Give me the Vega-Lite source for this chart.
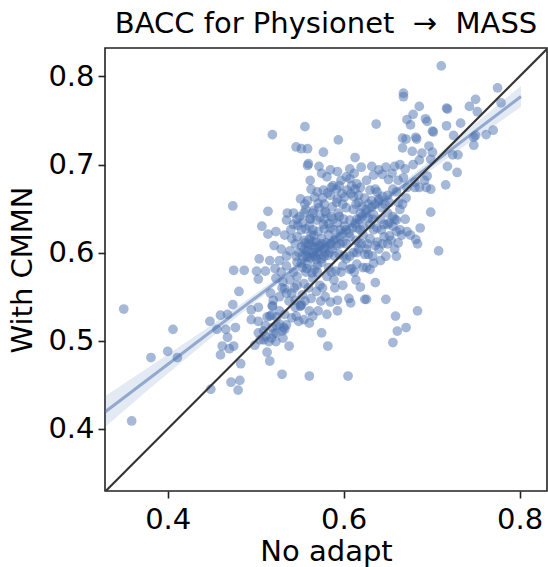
{
  "$schema": "https://vega.github.io/schema/vega-lite/v6.json",
  "autosize": "none",
  "padding": {"left": 105, "top": 48, "right": 1, "bottom": 76},
  "width": 442,
  "height": 443,
  "title": {"text": "BACC for Physionet \u00a0→\u00a0 MASS", "fontSize": 29, "font": "DejaVu Sans", "fontWeight": "normal", "color": "#000", "anchor": "middle", "offset": 9},
  "config": {
    "font": "DejaVu Sans",
    "view": {"stroke": "#222", "strokeWidth": 1.6},
    "axis": {"grid": false, "domain": false, "tickColor": "#222", "tickWidth": 1.6, "tickSize": 7, "labelFontSize": 29, "titleFontSize": 29, "labelColor": "#000", "titleColor": "#000", "titleFontWeight": "normal", "labelFont": "DejaVu Sans", "titleFont": "DejaVu Sans"}
  },
  "datasets": {
    "pts": [
      {"x":0.711,"y":0.812},{"x":0.775,"y":0.787},{"x":0.779,"y":0.770},{"x":0.750,"y":0.774},{"x":0.743,"y":0.766},
      {"x":0.668,"y":0.781},{"x":0.668,"y":0.777},{"x":0.717,"y":0.764},{"x":0.718,"y":0.763},{"x":0.686,"y":0.766},
      {"x":0.679,"y":0.757},{"x":0.672,"y":0.751},{"x":0.676,"y":0.745},{"x":0.693,"y":0.752},{"x":0.695,"y":0.749},
      {"x":0.637,"y":0.746},{"x":0.717,"y":0.744},{"x":0.701,"y":0.738},{"x":0.702,"y":0.737},{"x":0.733,"y":0.747},
      {"x":0.752,"y":0.760},{"x":0.725,"y":0.733},{"x":0.750,"y":0.733},{"x":0.748,"y":0.731},{"x":0.762,"y":0.734},
      {"x":0.770,"y":0.739},{"x":0.748,"y":0.722},{"x":0.667,"y":0.730},{"x":0.671,"y":0.729},{"x":0.682,"y":0.731},
      {"x":0.683,"y":0.729},{"x":0.667,"y":0.719},{"x":0.678,"y":0.715},{"x":0.686,"y":0.705},{"x":0.689,"y":0.713},
      {"x":0.697,"y":0.721},{"x":0.701,"y":0.714},{"x":0.699,"y":0.706},{"x":0.724,"y":0.711},{"x":0.730,"y":0.711},
      {"x":0.718,"y":0.698},{"x":0.729,"y":0.691},{"x":0.716,"y":0.677},{"x":0.699,"y":0.646},{"x":0.708,"y":0.602},
      {"x":0.660,"y":0.596},{"x":0.695,"y":0.687},{"x":0.694,"y":0.674},{"x":0.699,"y":0.672},{"x":0.686,"y":0.674},
      {"x":0.681,"y":0.674},{"x":0.692,"y":0.682},{"x":0.682,"y":0.615},{"x":0.687,"y":0.628},{"x":0.672,"y":0.624},
      {"x":0.662,"y":0.611},{"x":0.652,"y":0.619},{"x":0.650,"y":0.632},{"x":0.660,"y":0.637},{"x":0.656,"y":0.630},
      {"x":0.634,"y":0.588},{"x":0.626,"y":0.583},{"x":0.615,"y":0.587},{"x":0.609,"y":0.582},{"x":0.628,"y":0.598},
      {"x":0.617,"y":0.611},{"x":0.626,"y":0.604},{"x":0.615,"y":0.600},
      {"x":0.684,"y":0.534},{"x":0.659,"y":0.528},{"x":0.671,"y":0.515},{"x":0.661,"y":0.511},{"x":0.656,"y":0.498},
      {"x":0.605,"y":0.460},{"x":0.561,"y":0.460},{"x":0.530,"y":0.462},{"x":0.582,"y":0.494},{"x":0.575,"y":0.509},
      {"x":0.538,"y":0.494},{"x":0.516,"y":0.477},{"x":0.513,"y":0.487},
      {"x":0.350,"y":0.536},{"x":0.359,"y":0.409},{"x":0.406,"y":0.513},{"x":0.400,"y":0.488},{"x":0.381,"y":0.481},
      {"x":0.411,"y":0.481},{"x":0.449,"y":0.445},{"x":0.472,"y":0.453},{"x":0.482,"y":0.455},{"x":0.480,"y":0.444},
      {"x":0.483,"y":0.474},{"x":0.460,"y":0.484},{"x":0.462,"y":0.494},{"x":0.470,"y":0.491},{"x":0.475,"y":0.494},
      {"x":0.448,"y":0.522},{"x":0.460,"y":0.529},{"x":0.468,"y":0.530},{"x":0.456,"y":0.513},{"x":0.466,"y":0.513},
      {"x":0.477,"y":0.515},{"x":0.468,"y":0.504},{"x":0.474,"y":0.541},{"x":0.481,"y":0.556},{"x":0.475,"y":0.580},
      {"x":0.487,"y":0.580},{"x":0.501,"y":0.579},{"x":0.503,"y":0.570},{"x":0.511,"y":0.579},{"x":0.504,"y":0.593},
      {"x":0.516,"y":0.591},{"x":0.522,"y":0.582},{"x":0.507,"y":0.630},{"x":0.514,"y":0.621},{"x":0.514,"y":0.647},
      {"x":0.474,"y":0.653},{"x":0.519,"y":0.734},{"x":0.556,"y":0.743},{"x":0.546,"y":0.720},{"x":0.552,"y":0.718},
      {"x":0.559,"y":0.718},{"x":0.577,"y":0.714},{"x":0.594,"y":0.728},{"x":0.613,"y":0.708},{"x":0.560,"y":0.701},
      {"x":0.559,"y":0.699},{"x":0.572,"y":0.698},{"x":0.562,"y":0.682},{"x":0.536,"y":0.645},
      {"x":0.509,"y":0.511},{"x":0.509,"y":0.501},{"x":0.518,"y":0.503},{"x":0.520,"y":0.508},{"x":0.524,"y":0.517},
      {"x":0.530,"y":0.511},{"x":0.532,"y":0.515},{"x":0.535,"y":0.518},{"x":0.513,"y":0.527},{"x":0.518,"y":0.529},
      {"x":0.524,"y":0.527},{"x":0.519,"y":0.539},{"x":0.520,"y":0.546},{"x":0.533,"y":0.559},{"x":0.541,"y":0.554},
      {"x":0.547,"y":0.563},{"x":0.552,"y":0.541},{"x":0.551,"y":0.539},
      {"x":0.620,"y":0.697},{"x":0.632,"y":0.698},{"x":0.640,"y":0.694},{"x":0.648,"y":0.697},{"x":0.658,"y":0.698},
      {"x":0.664,"y":0.700},{"x":0.670,"y":0.695},{"x":0.679,"y":0.700},{"x":0.607,"y":0.695},{"x":0.585,"y":0.694},
      {"x":0.593,"y":0.692},{"x":0.603,"y":0.686},
      {"x":0.581,"y":0.686},{"x":0.597,"y":0.682},{"x":0.607,"y":0.684},{"x":0.615,"y":0.678},{"x":0.626,"y":0.682},
      {"x":0.634,"y":0.688},{"x":0.644,"y":0.689},{"x":0.651,"y":0.683},{"x":0.662,"y":0.682},{"x":0.668,"y":0.685},
      {"x":0.672,"y":0.674},{"x":0.681,"y":0.680},{"x":0.570,"y":0.669},{"x":0.586,"y":0.674},{"x":0.577,"y":0.671},
      {"x":0.609,"y":0.676},{"x":0.619,"y":0.674},{"x":0.630,"y":0.671},{"x":0.638,"y":0.669},{"x":0.650,"y":0.665},
      {"x":0.660,"y":0.669},
      {"x":0.551,"y":0.661},{"x":0.559,"y":0.659},{"x":0.567,"y":0.663},{"x":0.585,"y":0.665},{"x":0.593,"y":0.661},
      {"x":0.601,"y":0.663},{"x":0.608,"y":0.667},{"x":0.617,"y":0.665},{"x":0.624,"y":0.662},{"x":0.632,"y":0.659},
      {"x":0.640,"y":0.659},{"x":0.652,"y":0.657},{"x":0.662,"y":0.657},{"x":0.671,"y":0.662},
      {"x":0.543,"y":0.645},{"x":0.550,"y":0.641},{"x":0.557,"y":0.649},{"x":0.565,"y":0.645},{"x":0.572,"y":0.651},
      {"x":0.579,"y":0.647},{"x":0.586,"y":0.641},{"x":0.594,"y":0.645},{"x":0.603,"y":0.651},{"x":0.611,"y":0.649},
      {"x":0.619,"y":0.645},{"x":0.626,"y":0.649},{"x":0.634,"y":0.643},{"x":0.644,"y":0.651},{"x":0.650,"y":0.645},
      {"x":0.656,"y":0.641},{"x":0.664,"y":0.649},
      {"x":0.535,"y":0.637},{"x":0.543,"y":0.632},{"x":0.553,"y":0.634},{"x":0.561,"y":0.630},{"x":0.569,"y":0.637},
      {"x":0.577,"y":0.632},{"x":0.585,"y":0.628},{"x":0.593,"y":0.634},{"x":0.601,"y":0.630},{"x":0.607,"y":0.637},
      {"x":0.615,"y":0.628},{"x":0.622,"y":0.630},{"x":0.630,"y":0.632},{"x":0.638,"y":0.628},{"x":0.646,"y":0.632},
      {"x":0.652,"y":0.634},{"x":0.660,"y":0.624},
      {"x":0.523,"y":0.624},{"x":0.533,"y":0.620},{"x":0.541,"y":0.616},{"x":0.547,"y":0.618},{"x":0.555,"y":0.614},
      {"x":0.563,"y":0.620},{"x":0.569,"y":0.612},{"x":0.575,"y":0.616},{"x":0.583,"y":0.620},{"x":0.591,"y":0.616},
      {"x":0.599,"y":0.612},{"x":0.607,"y":0.618},{"x":0.614,"y":0.614},{"x":0.622,"y":0.620},{"x":0.630,"y":0.616},
      {"x":0.638,"y":0.612},{"x":0.646,"y":0.618},{"x":0.654,"y":0.614},{"x":0.666,"y":0.620},{"x":0.676,"y":0.620},
      {"x":0.521,"y":0.608},{"x":0.529,"y":0.604},{"x":0.539,"y":0.602},{"x":0.549,"y":0.600},{"x":0.555,"y":0.604},
      {"x":0.559,"y":0.595},{"x":0.565,"y":0.600},{"x":0.571,"y":0.606},{"x":0.579,"y":0.600},{"x":0.587,"y":0.604},
      {"x":0.595,"y":0.598},{"x":0.603,"y":0.593},{"x":0.611,"y":0.600},{"x":0.617,"y":0.604},{"x":0.624,"y":0.598},
      {"x":0.636,"y":0.608},{"x":0.640,"y":0.604},{"x":0.658,"y":0.604},{"x":0.684,"y":0.610},
      {"x":0.527,"y":0.591},{"x":0.535,"y":0.585},{"x":0.547,"y":0.589},{"x":0.553,"y":0.583},{"x":0.559,"y":0.587},
      {"x":0.567,"y":0.581},{"x":0.575,"y":0.589},{"x":0.583,"y":0.583},{"x":0.591,"y":0.579},{"x":0.599,"y":0.585},
      {"x":0.607,"y":0.581},{"x":0.622,"y":0.583},{"x":0.630,"y":0.581},{"x":0.642,"y":0.591},
      {"x":0.523,"y":0.571},{"x":0.531,"y":0.567},{"x":0.539,"y":0.569},{"x":0.547,"y":0.573},{"x":0.555,"y":0.565},
      {"x":0.565,"y":0.571},{"x":0.573,"y":0.563},{"x":0.581,"y":0.573},{"x":0.589,"y":0.569},{"x":0.599,"y":0.563},
      {"x":0.614,"y":0.569},{"x":0.619,"y":0.561},{"x":0.636,"y":0.566},
      {"x":0.517,"y":0.554},{"x":0.527,"y":0.550},{"x":0.535,"y":0.554},{"x":0.545,"y":0.546},{"x":0.553,"y":0.552},
      {"x":0.563,"y":0.548},{"x":0.569,"y":0.556},{"x":0.579,"y":0.550},{"x":0.585,"y":0.544},{"x":0.593,"y":0.546},
      {"x":0.606,"y":0.548},{"x":0.624,"y":0.547},{"x":0.626,"y":0.547},{"x":0.648,"y":0.547},
      {"x":0.495,"y":0.535},{"x":0.503,"y":0.538},{"x":0.519,"y":0.540},{"x":0.527,"y":0.534},{"x":0.533,"y":0.530},
      {"x":0.545,"y":0.538},{"x":0.551,"y":0.540},{"x":0.561,"y":0.534},{"x":0.571,"y":0.534},{"x":0.581,"y":0.530},
      {"x":0.593,"y":0.534},{"x":0.608,"y":0.543},
      {"x":0.495,"y":0.524},{"x":0.503,"y":0.522},{"x":0.511,"y":0.517},{"x":0.519,"y":0.515},{"x":0.527,"y":0.519},
      {"x":0.533,"y":0.513},{"x":0.541,"y":0.526},{"x":0.549,"y":0.522},{"x":0.555,"y":0.524},{"x":0.561,"y":0.520},
      {"x":0.503,"y":0.509},{"x":0.511,"y":0.505},{"x":0.523,"y":0.509},{"x":0.531,"y":0.503},
      {"x":0.505,"y":0.501},{"x":0.515,"y":0.499},{"x":0.523,"y":0.499},{"x":0.499,"y":0.495},
      {"x":0.552,"y":0.607},{"x":0.556,"y":0.611},{"x":0.560,"y":0.603},{"x":0.563,"y":0.609},{"x":0.567,"y":0.606},
      {"x":0.570,"y":0.601},{"x":0.573,"y":0.608},{"x":0.577,"y":0.604},{"x":0.580,"y":0.611},{"x":0.557,"y":0.597},
      {"x":0.562,"y":0.594},{"x":0.568,"y":0.596},{"x":0.575,"y":0.593},{"x":0.582,"y":0.597},{"x":0.586,"y":0.610},
      {"x":0.589,"y":0.614},{"x":0.592,"y":0.608},{"x":0.596,"y":0.618},{"x":0.599,"y":0.622},{"x":0.603,"y":0.626},
      {"x":0.606,"y":0.622},{"x":0.610,"y":0.628},{"x":0.613,"y":0.633},{"x":0.618,"y":0.638},{"x":0.621,"y":0.641},
      {"x":0.625,"y":0.645},{"x":0.628,"y":0.639},{"x":0.632,"y":0.652},{"x":0.636,"y":0.655},{"x":0.640,"y":0.661},
      {"x":0.644,"y":0.664},{"x":0.566,"y":0.620},{"x":0.571,"y":0.624},{"x":0.578,"y":0.627},{"x":0.583,"y":0.633},
      {"x":0.588,"y":0.638},{"x":0.595,"y":0.641},{"x":0.573,"y":0.640},{"x":0.580,"y":0.645},{"x":0.587,"y":0.652},
      {"x":0.592,"y":0.657},{"x":0.598,"y":0.667},{"x":0.604,"y":0.671},{"x":0.611,"y":0.664},{"x":0.617,"y":0.657},
      {"x":0.621,"y":0.652},{"x":0.566,"y":0.648},{"x":0.571,"y":0.656},{"x":0.576,"y":0.662},{"x":0.582,"y":0.668},
      {"x":0.588,"y":0.676},{"x":0.595,"y":0.676},{"x":0.552,"y":0.588},{"x":0.558,"y":0.582},{"x":0.564,"y":0.577},
      {"x":0.570,"y":0.586},{"x":0.557,"y":0.627},{"x":0.562,"y":0.639},{"x":0.555,"y":0.645},{"x":0.548,"y":0.631},
      {"x":0.575,"y":0.690},{"x":0.612,"y":0.690},{"x":0.655,"y":0.690},
      {"x":0.563,"y":0.672},{"x":0.592,"y":0.672},{"x":0.613,"y":0.672},{"x":0.636,"y":0.672},{"x":0.656,"y":0.672},
      {"x":0.556,"y":0.655},{"x":0.578,"y":0.655},{"x":0.599,"y":0.655},{"x":0.614,"y":0.655},{"x":0.628,"y":0.655},
      {"x":0.647,"y":0.655},{"x":0.667,"y":0.655},
      {"x":0.547,"y":0.638},{"x":0.562,"y":0.638},{"x":0.578,"y":0.638},{"x":0.600,"y":0.638},{"x":0.615,"y":0.638},
      {"x":0.633,"y":0.638},{"x":0.642,"y":0.638},{"x":0.658,"y":0.638},{"x":0.670,"y":0.638},
      {"x":0.540,"y":0.626},{"x":0.552,"y":0.626},{"x":0.565,"y":0.626},{"x":0.589,"y":0.626},{"x":0.596,"y":0.626},
      {"x":0.619,"y":0.626},{"x":0.634,"y":0.626},{"x":0.643,"y":0.626},{"x":0.664,"y":0.626},
      {"x":0.545,"y":0.610},{"x":0.560,"y":0.610},{"x":0.575,"y":0.610},{"x":0.584,"y":0.610},{"x":0.596,"y":0.610},
      {"x":0.603,"y":0.610},{"x":0.620,"y":0.610},{"x":0.627,"y":0.610},{"x":0.644,"y":0.610},{"x":0.650,"y":0.610},
      {"x":0.535,"y":0.596},{"x":0.546,"y":0.596},{"x":0.553,"y":0.596},{"x":0.566,"y":0.596},{"x":0.578,"y":0.596},
      {"x":0.590,"y":0.596},{"x":0.600,"y":0.596},{"x":0.607,"y":0.596},{"x":0.633,"y":0.596},{"x":0.648,"y":0.596},
      {"x":0.529,"y":0.578},{"x":0.543,"y":0.578},{"x":0.557,"y":0.578},{"x":0.570,"y":0.578},{"x":0.586,"y":0.578},
      {"x":0.597,"y":0.578},{"x":0.612,"y":0.578},
      {"x":0.530,"y":0.560},{"x":0.544,"y":0.560},{"x":0.560,"y":0.560},{"x":0.576,"y":0.560},{"x":0.590,"y":0.560},
      {"x":0.538,"y":0.545},{"x":0.556,"y":0.545},{"x":0.574,"y":0.545},
      {"x":0.516,"y":0.528},{"x":0.546,"y":0.528},{"x":0.565,"y":0.528},
      {"x":0.558,"y":0.602},{"x":0.565,"y":0.612},{"x":0.572,"y":0.598},{"x":0.579,"y":0.606},{"x":0.584,"y":0.600},
      {"x":0.561,"y":0.615},{"x":0.569,"y":0.592}
    ],
    "band": [
      {"x":0.3287,"lo":0.402,"hi":0.437},
      {"x":0.38,"lo":0.446,"hi":0.471},
      {"x":0.45,"lo":0.504,"hi":0.518},
      {"x":0.52,"lo":0.560,"hi":0.568},
      {"x":0.60,"lo":0.6216,"hi":0.6276},
      {"x":0.68,"lo":0.680,"hi":0.690},
      {"x":0.74,"lo":0.7227,"hi":0.7387},
      {"x":0.8016,"lo":0.7653,"hi":0.7893}
    ],
    "fit": [{"x":0.3287,"y":0.4191},{"x":0.8016,"y":0.7773}],
    "diag": [{"x":0.3287,"y":0.3287},{"x":0.8323,"y":0.8323}]
  },
  "layer": [
    {
      "data": {"name": "pts"},
      "mark": {"type": "circle", "size": 95, "opacity": 0.5, "color": "#4C72B0", "strokeWidth": 0},
      "encoding": {
        "x": {"field": "x", "type": "quantitative", "title": "No adapt",
              "scale": {"domain": [0.3287, 0.8312], "nice": false, "zero": false},
              "axis": {"values": [0.4, 0.6, 0.8], "format": ".1f", "labelPadding": 7, "titlePadding": 3}},
        "y": {"field": "y", "type": "quantitative", "title": "With CMMN",
              "scale": {"domain": [0.3295, 0.8323], "nice": false, "zero": false},
              "axis": {"values": [0.4, 0.5, 0.6, 0.7, 0.8], "format": ".1f", "labelPadding": 4, "titlePadding": 10}}
      }
    },
    {
      "data": {"name": "band"},
      "mark": {"type": "area", "color": "#4C72B0", "opacity": 0.15},
      "encoding": {
        "x": {"field": "x", "type": "quantitative"},
        "y": {"field": "lo", "type": "quantitative"},
        "y2": {"field": "hi"}
      }
    },
    {
      "data": {"name": "fit"},
      "mark": {"type": "line", "color": "#4C72B0", "opacity": 0.55, "strokeWidth": 3},
      "encoding": {
        "x": {"field": "x", "type": "quantitative"},
        "y": {"field": "y", "type": "quantitative"}
      }
    },
    {
      "data": {"name": "diag"},
      "mark": {"type": "line", "color": "#333333", "strokeWidth": 2.2, "clip": true},
      "encoding": {
        "x": {"field": "x", "type": "quantitative"},
        "y": {"field": "y", "type": "quantitative"}
      }
    }
  ]
}
